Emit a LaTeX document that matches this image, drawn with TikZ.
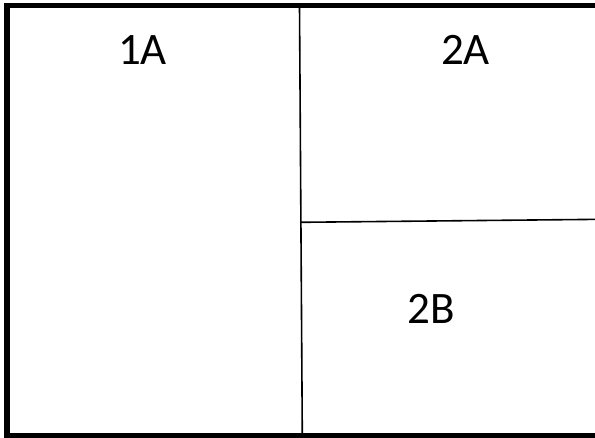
\documentclass[tikz,border=0pt]{standalone}
\usepackage{fontspec}
\setmainfont{Carlito}
\begin{document}
\begin{tikzpicture}[x=1pt,y=-1pt,
  frame/.style={draw=black,line width=5.5pt,line join=miter},
  divider/.style={draw=black,line width=1.6pt},
  lbl/.style={font=\fontsize{45}{54}\selectfont,inner sep=0pt,anchor=center}]
\useasboundingbox (0,0) rectangle (595,437);
\clip (0,0) rectangle (595,437);
\coordinate (tl) at (7,5.5);
\coordinate (tr) at (602,5.5);
\coordinate (br) at (602,435.5);
\coordinate (bl) at (7,435.5);
\draw[frame] (tr) -- (tl) -- (bl) -- (br);
\coordinate (vtop) at (299.5,5.5);
\coordinate (vbot) at (302.3,435.5);
\draw[divider] (vtop) -- (vbot);
\coordinate (hl) at (300.5,222.3);
\coordinate (hr) at (602,219.3);
\draw[divider] (hl) -- (hr);
\node[lbl] (a1) at (142.5,50) {1A};
\node[lbl] (a2) at (465.5,50) {2A};
\node[lbl] (b2) at (431.5,308.5) {2B};
\end{tikzpicture}
\end{document}
